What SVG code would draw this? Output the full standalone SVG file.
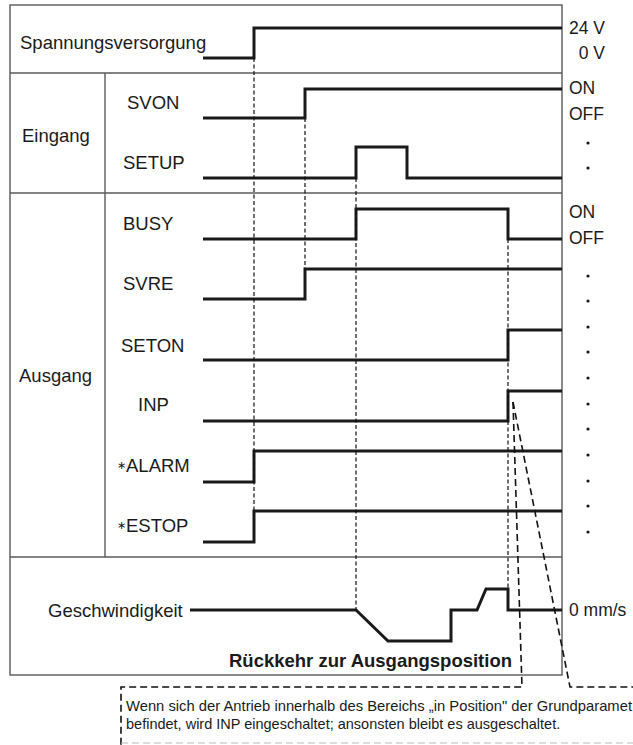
<svg xmlns="http://www.w3.org/2000/svg" width="633" height="745" viewBox="0 0 633 745">
<style>
.frame{fill:none;stroke:#5a5a5a;stroke-width:1.4}
.sig{fill:none;stroke:#1a1a1a;stroke-width:3;stroke-linejoin:miter}
.guide{fill:none;stroke:#111;stroke-width:1.2;stroke-dasharray:4 2.5}
.call{fill:none;stroke:#111;stroke-width:1.6;stroke-dasharray:7 4}
.lbl{font-family:"Liberation Sans",Arial,Helvetica,sans-serif;font-size:18.5px;fill:#1a1a1a}
.rl{font-family:"Liberation Sans",Arial,Helvetica,sans-serif;font-size:17.5px;fill:#1a1a1a}
.bold{font-weight:bold}
.note{font-family:"Liberation Sans",Arial,Helvetica,sans-serif;font-size:14.5px;fill:#1a1a1a}
.dot{fill:#1a1a1a}
</style>
<rect width="633" height="745" fill="#fff"/>
<g id="frame">
<rect class="frame" x="10" y="5" width="552" height="670"/>
<line class="frame" x1="10" y1="73" x2="562" y2="73"/>
<line class="frame" x1="10" y1="193" x2="562" y2="193"/>
<line class="frame" x1="10" y1="557" x2="562" y2="557"/>
<line class="frame" x1="105" y1="73" x2="105" y2="557"/>
<text class="lbl" x="20" y="48.5">Spannungsversorgung</text>
<text class="lbl" x="22" y="142">Eingang</text>
<text class="lbl" x="19" y="382">Ausgang</text>
</g>
<g id="power">
<path class="sig" d="M203,58 H254 V28 H562"/>
<text class="rl" x="605" y="34" text-anchor="end">24 V</text>
<text class="rl" x="605" y="59" text-anchor="end">0 V</text>
</g>
<g id="svon">
<text class="lbl" x="127" y="109">SVON</text>
<path class="sig" d="M203,118 H305 V89 H562"/>
<text class="rl" x="569" y="94">ON</text>
<text class="rl" x="569" y="120">OFF</text>
</g>
<g id="setup">
<text class="lbl" x="123" y="169">SETUP</text>
<path class="sig" d="M203,178 H356 V147 H407 V178 H562"/>
<circle class="dot" cx="588" cy="143" r="1.6"/>
<circle class="dot" cx="588" cy="168" r="1.6"/>
</g>
<g id="busy">
<text class="lbl" x="123" y="230">BUSY</text>
<path class="sig" d="M203,239 H356 V209 H508 V239 H562"/>
<text class="rl" x="569" y="218">ON</text>
<text class="rl" x="569" y="244">OFF</text>
</g>
<g id="svre">
<text class="lbl" x="123" y="290">SVRE</text>
<path class="sig" d="M203,299 H305 V269 H562"/>
</g>
<g id="seton">
<text class="lbl" x="121" y="352">SETON</text>
<path class="sig" d="M203,360 H508 V330 H562"/>
</g>
<g id="inp">
<text class="lbl" x="138" y="411">INP</text>
<path class="sig" d="M203,421 H508 V391 H562"/>
</g>
<g id="alarm">
<text class="lbl" x="117" y="472"><tspan font-size="11" dy="-3">∗</tspan><tspan dy="3">ALARM</tspan></text>
<path class="sig" d="M203,482 H254 V451 H562"/>
</g>
<g id="estop">
<text class="lbl" x="117" y="532"><tspan font-size="11" dy="-3">∗</tspan><tspan dy="3">ESTOP</tspan></text>
<path class="sig" d="M203,542 H254 V511 H562"/>
</g>
<g id="dots">
<circle class="dot" cx="588" cy="276" r="1.6"/>
<circle class="dot" cx="588" cy="301" r="1.6"/>
<circle class="dot" cx="588" cy="327" r="1.6"/>
<circle class="dot" cx="588" cy="352" r="1.6"/>
<circle class="dot" cx="588" cy="378" r="1.6"/>
<circle class="dot" cx="588" cy="404" r="1.6"/>
<circle class="dot" cx="588" cy="429" r="1.6"/>
<circle class="dot" cx="588" cy="455" r="1.6"/>
<circle class="dot" cx="588" cy="481" r="1.6"/>
<circle class="dot" cx="588" cy="506" r="1.6"/>
<circle class="dot" cx="588" cy="532" r="1.6"/>
</g>
<g id="speed">
<text class="lbl" x="48" y="617">Geschwindigkeit</text>
<path class="sig" d="M190,610 H356 L388,641 H451 V610 H477 L486,589 H508 V610 H562"/>
<text class="rl" x="569" y="616">0 mm/s</text>
<text class="lbl bold" x="229" y="667">Rückkehr zur Ausgangsposition</text>
</g>
<g id="connectors">
<line class="guide" x1="254" y1="58" x2="254" y2="511"/>
<line class="guide" x1="305" y1="118" x2="305" y2="269"/>
<line class="guide" x1="356" y1="178" x2="356" y2="610"/>
<line class="guide" x1="508" y1="239" x2="508" y2="589"/>
<path class="call" d="M513,402 L522,687 H121 V745"/>
<path class="call" d="M513,402 L570,687 H640"/>
<line x1="121" y1="743" x2="633" y2="743" stroke="#bbb" stroke-width="1.2" stroke-dasharray="7 4"/>
</g>
<g id="note">
<text class="note" x="126" y="711" textLength="506" lengthAdjust="spacingAndGlyphs">Wenn sich der Antrieb innerhalb des Bereichs „in Position" der Grundparamet</text>
<text class="note" x="126" y="729">befindet, wird INP eingeschaltet; ansonsten bleibt es ausgeschaltet.</text>
</g>
</svg>
